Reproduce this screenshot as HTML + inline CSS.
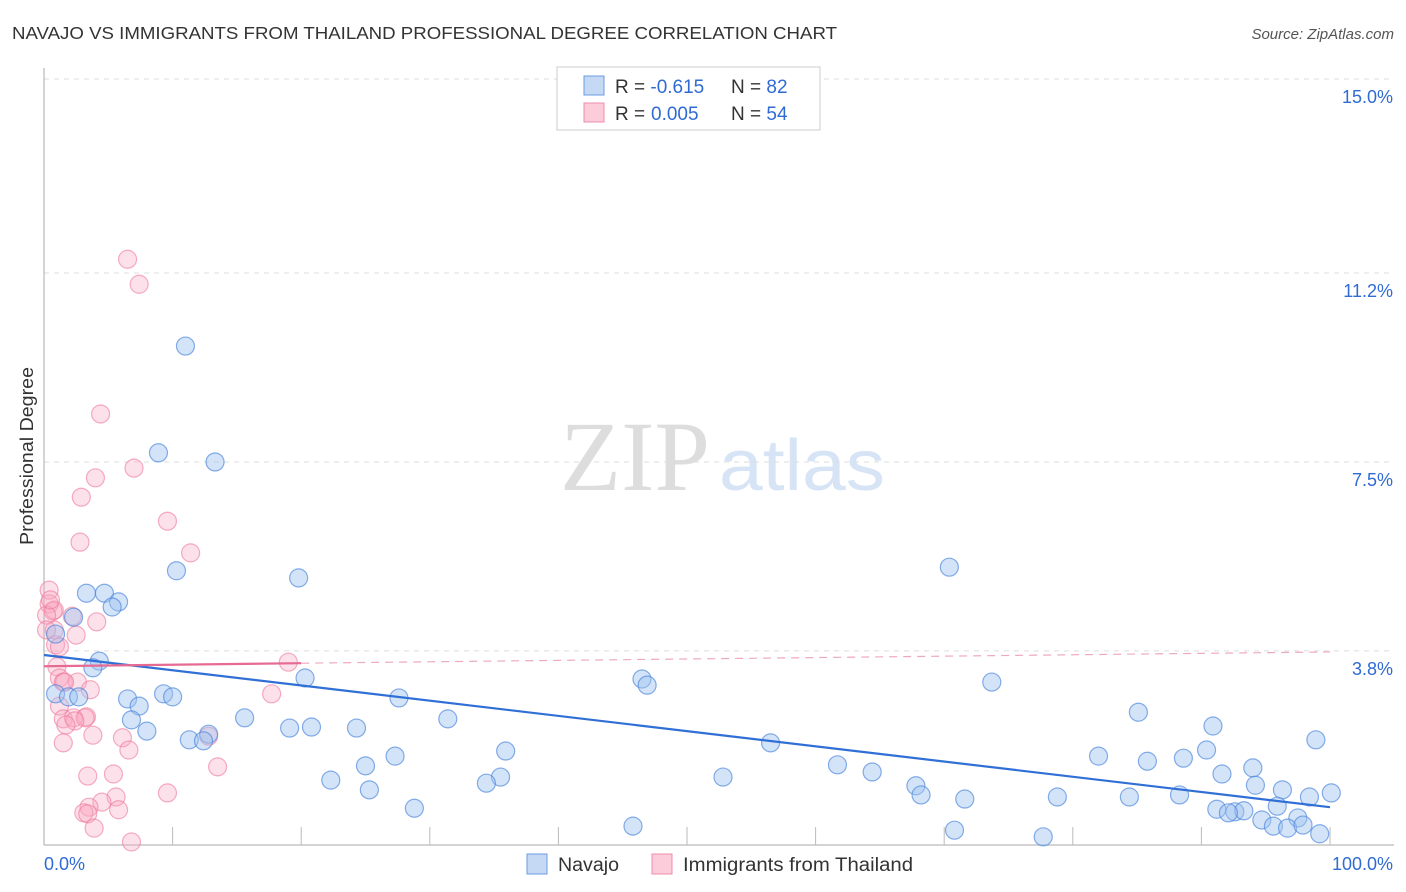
<!DOCTYPE html>
<html><head><meta charset="utf-8"><style>
body{margin:0;background:#fff;font-family:"Liberation Sans",sans-serif;}
svg{display:block}
</style></head><body>
<svg id="chart" width="1406" height="892">
<text x="12" y="39" font-size="17.5" fill="#333" textLength="825" lengthAdjust="spacingAndGlyphs">NAVAJO VS IMMIGRANTS FROM THAILAND PROFESSIONAL DEGREE CORRELATION CHART</text>
<text x="1394" y="39" font-size="15" fill="#555" font-style="italic" text-anchor="end">Source: ZipAtlas.com</text>
<text transform="translate(33,456) rotate(-90)" font-size="18" fill="#333" text-anchor="middle" textLength="178" lengthAdjust="spacingAndGlyphs">Professional Degree</text>
<g>
<text x="635" y="490" font-size="100" fill="#ddd" font-family="Liberation Serif,serif" text-anchor="middle">ZIP</text>
<text x="802" y="490" font-size="72" fill="#d6e4f5" text-anchor="middle" textLength="166" lengthAdjust="spacingAndGlyphs">atlas</text>
</g>
<g id="grid"></g><g id="axes"></g><g id="pts"></g><g id="trend"></g>
<g>
<rect x="557" y="67" width="263" height="63" fill="#fff" stroke="#ccc"/>
<rect x="584" y="76" width="20" height="19" fill="#c5d9f5" stroke="#6a9be0"/>
<rect x="584" y="103" width="20" height="19" fill="#fcccda" stroke="#ec8eaa"/>
<text x="615" y="93" font-size="19" fill="#333">R = <tspan fill="#2f6bd3">-0.615</tspan></text>
<text x="731" y="93" font-size="19" fill="#333">N = <tspan fill="#2f6bd3">82</tspan></text>
<text x="615" y="120" font-size="19" fill="#333">R = <tspan fill="#2f6bd3" x="651">0.005</tspan></text>
<text x="731" y="120" font-size="19" fill="#333">N = <tspan fill="#2f6bd3">54</tspan></text>
</g>
<g>
<rect x="527" y="854" width="20" height="20" fill="#c5d9f5" stroke="#6a9be0"/>
<text x="558" y="871" font-size="19" fill="#333" textLength="61" lengthAdjust="spacingAndGlyphs">Navajo</text>
<rect x="652" y="854" width="20" height="20" fill="#fcccda" stroke="#ec8eaa"/>
<text x="683" y="871" font-size="19" fill="#333" textLength="230" lengthAdjust="spacingAndGlyphs">Immigrants from Thailand</text>
</g>
</svg>
<script>
const yTicks=[15.0,11.2,7.5,3.8];
const yTickLabels=["15.0%","11.2%","7.5%","3.8%"];
const xTickLabels=["0.0%","100.0%"];
const navajoPx=[[185,346],[159,453],[215,462],[177,571],[298,578],[949,567],[87,593],[104,593],[118,602],[112,607],[74,617],[55,634],[99,661],[93,668],[305,678],[642,679],[647,685],[992,682],[55,694],[68,697],[79,697],[128,699],[164,694],[172,697],[399,698],[139,706],[131,720],[147,731],[245,718],[448,719],[1138,712],[1213,726],[289,728],[311,727],[357,728],[209,734],[189,740],[203,741],[1316,740],[770,743],[506,751],[395,756],[1099,756],[1207,750],[1147,761],[1184,758],[365,766],[838,765],[1253,768],[872,772],[331,780],[500,777],[486,783],[723,777],[1222,774],[1256,785],[916,786],[921,795],[369,790],[1058,797],[1130,797],[965,799],[1179,795],[1283,790],[1331,793],[1310,797],[414,808],[1217,809],[1235,812],[1244,811],[1277,806],[1229,813],[1298,818],[1262,820],[1273,826],[1288,828],[1303,825],[633,826],[955,830],[1320,834],[1043,837]];
const thaiPx=[[127,259],[139,284],[101,414],[134,468],[95,478],[81,497],[168,521],[80,542],[191,553],[49,590],[49,604],[53,611],[72,616],[97,622],[54,630],[76,635],[55,645],[59,647],[288,662],[57,667],[60,678],[63,682],[77,682],[90,690],[272,694],[60,706],[87,717],[63,719],[73,718],[85,718],[75,721],[66,725],[93,735],[123,738],[129,750],[208,736],[63,743],[217,767],[88,776],[113,774],[167,793],[116,797],[102,802],[89,807],[84,813],[88,814],[118,810],[94,828],[131,842],[54,610],[47,615],[46,630],[50,600],[65,682]];
</script>
<script>
const navajoXs=navajoPx.map(p=>+((p[0]-44)/12.86).toFixed(1));
const navajoYs=navajoPx.map(p=>+((845-p[1])/51.07).toFixed(2));
const thaiXs=thaiPx.map(p=>+((p[0]-44)/12.86).toFixed(1));
const thaiYs=thaiPx.map(p=>+((845-p[1])/51.07).toFixed(2));
const navajoTrend=[3.72,0.74];
const thaiTrend=[3.50,3.56,3.78];
const NS="http://www.w3.org/2000/svg";
const X=v=>44+v*12.86, Y=v=>845-v*51.07;
function mk(t,a,p){const e=document.createElementNS(NS,t);for(const k in a)e.setAttribute(k,a[k]);document.getElementById(p).appendChild(e);return e;}
yTicks.forEach((t,i)=>{
 const g=mk('line',{x1:44,x2:1394,y1:Y(t),y2:Y(t),stroke:'#ddd','stroke-dasharray':'5,5'},'grid');
 
 
 const l=mk('text',{x:1393,y:Y(t)+24,'font-size':18,fill:'#2f6bd3','text-anchor':'end'},'axes');
 l.textContent=yTickLabels[i];
 
 
});
const ax=mk('line',{x1:44,x2:44,y1:68,y2:845,stroke:'#aaa'},'axes');


const bx=mk('line',{x1:44,x2:1394,y1:845,y2:845,stroke:'#aaa'},'axes');


for(let i=1;i<=10;i++){const t=mk('line',{x1:X(i*10),x2:X(i*10),y1:827,y2:845,stroke:'#bbb'},'axes');
 
 }
[[X(0),'start'],[1393,'end']].forEach((d,i)=>{const t=mk('text',{x:d[0],y:870,'font-size':18,fill:'#2f6bd3','text-anchor':d[1]},'axes');t.textContent=xTickLabels[i];
 
 });
thaiXs.forEach((x,i)=>{const c=mk('circle',{cx:X(x),cy:Y(thaiYs[i]),r:9,fill:'rgba(248,170,195,0.35)',stroke:'rgba(236,120,155,0.6)','stroke-width':1.2},'pts');
 
 });
navajoXs.forEach((x,i)=>{const c=mk('circle',{cx:X(x),cy:Y(navajoYs[i]),r:9,fill:'rgba(160,195,240,0.45)',stroke:'rgba(70,130,220,0.65)','stroke-width':1.2},'pts');
 
 });
const bl=mk('line',{x1:X(0),y1:Y(navajoTrend[0]),x2:X(100),y2:Y(navajoTrend[1]),stroke:'#2f6fd6','stroke-width':2.2},'trend');


const pl=mk('line',{x1:X(0),y1:Y(thaiTrend[0]),x2:X(20),y2:Y(thaiTrend[1]),stroke:'#e66a92','stroke-width':2.2},'trend');


const pd=mk('line',{x1:X(20),y1:Y(thaiTrend[1]),x2:X(100),y2:Y(thaiTrend[2]),stroke:'#eeaabd','stroke-width':1.2,'stroke-dasharray':'8,6'},'trend');


</script>
</body></html>
